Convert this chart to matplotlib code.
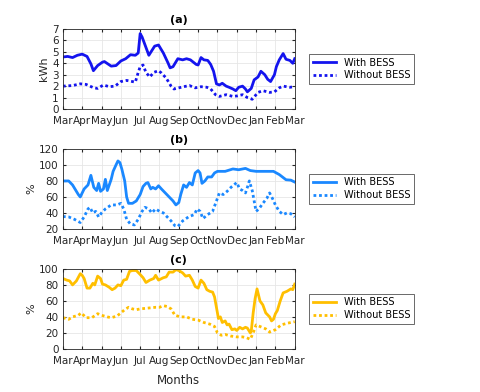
import matplotlib
matplotlib.use("Agg")
import matplotlib.pyplot as plt
import numpy as np

months = ["Mar", "Apr", "May", "Jun", "Jul", "Aug", "Sep", "Oct", "Nov", "Dec", "Jan", "Feb", "Mar"]

# (a) energy, kWh  -- x positions in months since 1 March
a_with_x = [0, 0.25, 0.5, 0.75, 1.0, 1.25, 1.45, 1.58, 1.8, 2.05, 2.15, 2.5, 2.75, 3.0, 3.25, 3.5,
            3.75, 3.9, 4.0, 4.1, 4.45, 4.75, 4.95, 5.2, 5.45, 5.55, 5.7, 5.95, 6.2, 6.4, 6.6, 6.9,
            7.0, 7.15, 7.3, 7.5, 7.65, 7.8, 7.95, 8.1, 8.25, 8.45, 8.6, 8.8, 8.95, 9.1, 9.3, 9.45,
            9.55, 9.75, 9.9, 10.1, 10.25, 10.45, 10.6, 10.75, 10.95, 11.05, 11.2, 11.4, 11.55,
            11.75, 11.9, 12.0]
a_with = [4.55, 4.6, 4.5, 4.7, 4.8, 4.6, 3.95, 3.35, 3.8, 4.1, 4.15, 3.75, 3.8, 4.2, 4.4, 4.75,
          4.7, 4.9, 6.6, 6.3, 4.7, 5.5, 5.6, 4.9, 4.0, 3.6, 3.7, 4.4, 4.3, 4.4, 4.3, 3.9,
          3.85, 4.5, 4.3, 4.25, 3.9, 3.3, 2.2, 2.1, 2.25, 2.0, 1.9, 1.75, 1.6, 1.9, 2.0, 1.75,
          1.5, 1.8, 2.55, 2.8, 3.3, 3.0, 2.6, 2.4, 3.0, 3.7, 4.3, 4.85, 4.35,
          4.25, 4.0, 4.4]
a_wo_x = [0, 0.5, 0.9, 1.2, 1.6, 1.8, 2.1, 2.4, 2.7, 3.0, 3.3, 3.6, 3.75, 3.9, 4.0, 4.15, 4.3,
          4.5, 4.7, 4.95, 5.1, 5.35, 5.6, 5.75, 6.0, 6.25, 6.55, 6.85, 7.15, 7.45, 7.65, 7.9,
          8.1, 8.45, 8.8, 9.05, 9.3, 9.55, 9.8, 10.1, 10.35, 10.7, 10.95, 11.2, 11.4, 11.75, 12.0]
a_wo = [2.0, 2.05, 2.2, 2.15, 1.85, 1.8, 2.1, 1.95, 2.0, 2.4, 2.5, 2.4, 2.35, 3.2, 3.7, 3.85, 3.2,
        2.8, 3.2, 3.35, 3.15, 2.7, 2.0, 1.75, 1.85, 1.95, 2.05, 1.85, 1.95, 1.9, 1.75, 1.25,
        1.1, 1.25, 1.1, 1.15, 1.25, 1.0, 0.85, 1.45, 1.6, 1.45, 1.5, 1.85, 2.0, 1.9, 1.95]

# (b) %
b_with_x = [0, 0.3, 0.5, 0.8, 0.9, 1.1, 1.3, 1.45, 1.6, 1.75, 1.85, 1.95, 2.1, 2.2, 2.3, 2.5, 2.6,
            2.75, 2.85, 2.95, 3.05, 3.2, 3.3, 3.4, 3.6, 3.8, 4.0, 4.15, 4.3, 4.4, 4.55, 4.65, 4.8,
            4.95, 5.1, 5.3, 5.5, 5.7, 5.85, 6.0, 6.1, 6.25, 6.4, 6.55, 6.7, 6.85, 7.0, 7.1, 7.2,
            7.35, 7.5, 7.7, 7.85, 8.0, 8.4, 8.8, 9.1, 9.45, 9.7, 10.0, 10.5, 10.9, 11.2, 11.55,
            11.8, 12.0]
b_with = [80, 80, 75, 63, 60, 70, 75, 87, 72, 68, 77, 67, 70, 82, 68, 82, 92,
          100, 105, 103, 95, 80, 60, 52, 52, 55, 63, 73, 77, 78, 70, 72, 70,
          74, 70, 65, 60, 55, 50, 53, 63, 75, 72, 78, 75, 90, 93, 90, 77,
          80, 85, 85, 90, 92, 92, 95, 94, 95.7, 93, 92, 92, 92, 88, 81.5,
          81, 78.6]
b_wo_x = [0, 0.3, 0.6, 0.9, 1.1, 1.3, 1.4, 1.55, 1.7, 1.85, 2.0, 2.2, 2.5, 2.8, 3.0, 3.15, 3.3,
          3.5, 3.7, 3.9, 4.1, 4.25, 4.45, 4.6, 4.8, 5.0, 5.2, 5.4, 5.6, 5.8, 5.95, 6.2, 6.5,
          6.8, 6.95, 7.1, 7.25, 7.5, 7.75, 7.95, 8.1, 8.3, 8.5, 8.7, 8.85, 9.0, 9.15, 9.3,
          9.45, 9.55, 9.65, 9.8, 9.9, 10.0, 10.15, 10.35, 10.55, 10.7, 10.85, 11.0, 11.2,
          11.4, 11.6, 11.8, 12.0]
b_wo = [35.5, 35, 32, 28, 35, 45, 47, 40, 42, 35, 40, 45, 50, 50, 52, 45, 32,
        26, 25, 32, 42, 47, 45, 40, 45, 42, 40, 35, 30, 24, 23, 30, 35,
        38, 45, 42, 33, 38, 42, 55, 65, 63, 67, 72, 75, 78, 70, 68,
        65, 72, 80, 68, 55, 42, 45, 52, 58, 65, 58, 50, 42,
        38, 40, 39, 35]

# (c) %
c_with_x = [0, 0.2, 0.35, 0.5, 0.7, 0.9, 1.0, 1.1, 1.25, 1.4, 1.55, 1.65, 1.8, 1.95, 2.05, 2.2,
            2.4, 2.55, 2.7, 2.85, 3.0, 3.15, 3.3, 3.45, 3.6, 3.8, 4.0, 4.15, 4.3, 4.5, 4.7, 4.8,
            4.95, 5.2, 5.35, 5.5, 5.7, 5.85, 6.0, 6.2, 6.35, 6.55, 6.7, 6.85, 7.0, 7.15, 7.3,
            7.45, 7.6, 7.75, 7.85, 8.0, 8.05, 8.15, 8.25, 8.4, 8.5, 8.6, 8.75, 8.9, 9.0, 9.15,
            9.3, 9.45, 9.55, 9.7, 9.75, 9.85, 9.95, 10.05, 10.2, 10.35, 10.5, 10.7, 10.8, 10.9,
            11.0, 11.1, 11.25, 11.4, 11.6, 11.8, 11.9, 12.0]
c_with = [88, 86, 85, 80, 85, 94, 92, 88, 76, 76, 82, 80, 91, 88, 81, 80,
          77, 74, 76, 80, 79, 86, 87, 97, 98, 98, 93, 89, 83, 86, 88, 92,
          86, 89, 90, 96, 96, 99, 98, 95, 91, 92, 86, 78, 76, 86, 82,
          74, 72, 71, 65, 45, 38, 40, 33, 35, 30, 31, 24, 25, 23, 27,
          25, 27, 26, 20, 22, 45, 63, 75, 60, 55, 45, 40, 35, 37,
          44, 48, 60, 70, 72, 75, 74, 81]
c_wo_x = [0, 0.3, 0.5, 0.8, 0.95, 1.2, 1.5, 1.8, 2.0, 2.3, 2.5, 2.8, 3.0, 3.2, 3.4, 3.6, 3.8,
          4.0, 4.4, 4.8, 5.0, 5.2, 5.4, 5.6, 5.8, 6.1, 6.4, 6.7, 7.0, 7.3, 7.6, 7.85, 8.0,
          8.2, 8.4, 8.7, 9.0, 9.3, 9.5, 9.7, 9.85, 10.0, 10.2, 10.5, 10.7, 11.0, 11.3, 11.6, 12.0]
c_wo = [39, 37, 40, 42, 45, 39, 39, 44, 42, 40, 39, 41, 45, 49, 52, 50, 49,
        50, 51, 52, 52, 54, 53, 50, 42, 40, 40, 37, 36, 33, 31, 28, 20,
        17, 18, 16, 15, 15, 14, 12, 20, 30, 28, 25, 21, 24, 30, 32, 34]

panels = [
    ("(a)", "kWh", (0, 7), np.arange(0, 8, 1), "#1414ee",
     a_with_x, a_with, a_wo_x, a_wo),
    ("(b)", "%", (20, 120), np.arange(20, 121, 20), "#1a88ff",
     b_with_x, b_with, b_wo_x, b_wo),
    ("(c)", "%", (0, 100), np.arange(0, 101, 20), "#ffbf00",
     c_with_x, c_with, c_wo_x, c_wo),
]

fig = plt.figure(figsize=(4.8, 3.92), dpi=100)
bottoms = [0.722, 0.416, 0.110]

for (title, ylab, ylim, yticks, color, wx, wy, ox, oy), b in zip(panels, bottoms):
    ax = fig.add_axes([0.131, b, 0.483, 0.204])
    ax.plot(wx, wy, color=color, linewidth=2.0, label="With BESS")
    ax.plot(ox, oy, color=color, linewidth=2.0, linestyle=(0, (1, 1)), label="Without BESS")
    ax.set_xlim(0, 12)
    ax.set_ylim(*ylim)
    ax.set_xticks(range(13))
    ax.set_xticklabels(months, fontsize=7.5, color="#262626")
    ax.set_yticks(yticks)
    ax.tick_params(axis="y", labelsize=7.5, labelcolor="#262626", pad=3)
    ax.tick_params(axis="x", pad=5)
    ax.tick_params(direction="in", length=2, top=True, right=True, color="#262626")
    ax.grid(True, color="#e6e6e6", linewidth=0.6)
    ax.set_axisbelow(True)
    for s in ax.spines.values():
        s.set_color("#262626")
        s.set_linewidth(0.6)
    ax.set_title(title, fontsize=8, fontweight="bold", pad=4)
    ax.set_ylabel(ylab, fontsize=8, color="#262626", labelpad=2)
    leg = ax.legend(loc="center left", bbox_to_anchor=(1.04, 0.5), fontsize=7,
                    frameon=True, fancybox=False, edgecolor="#262626",
                    handlelength=2.4, borderpad=0.4, labelspacing=0.3)
    leg.get_frame().set_linewidth(0.6)

ax.set_xlabel("Months", fontsize=8.5, color="#262626", labelpad=6)

plt.savefig("out.png", dpi=100)
